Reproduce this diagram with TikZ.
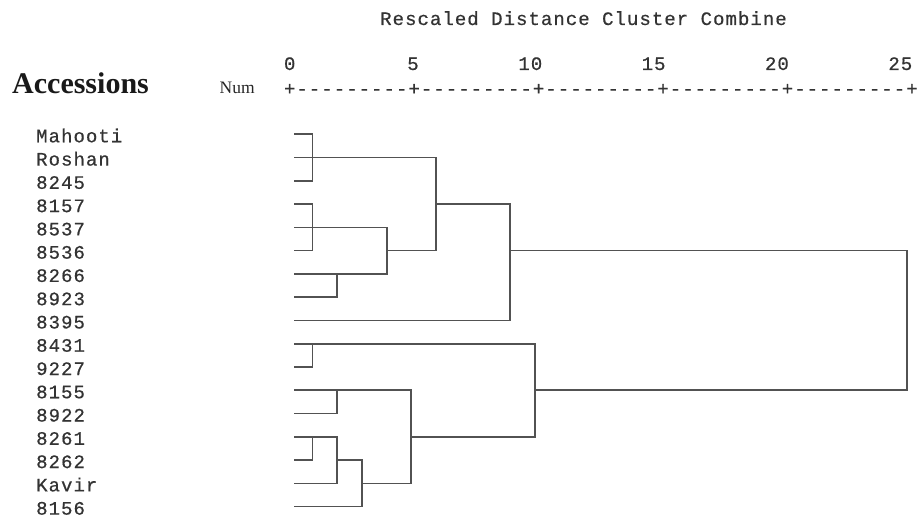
\documentclass[tikz,border=0pt]{standalone}
\usepackage{fontspec}
\setmainfont{Liberation Serif}
\newfontfamily\monofont[LetterSpace=5.5,FakeBold=0.6]{Liberation Mono}
\begin{document}
\begin{tikzpicture}[x=1pt,y=-1pt,
  mono/.style={font=\monofont\fontsize{19}{19}\selectfont, text=black!80, inner sep=0pt, anchor=base west},
  leaflabel/.style={mono},
  tree/.style={draw=black!68, line width=1.6pt, line join=miter},
]
\useasboundingbox (0,0) rectangle (917,518);

% headings
\node[mono] (title) at (380,25) {Rescaled Distance Cluster Combine};
\node[font=\fontsize{30}{30}\selectfont\bfseries, text=black!90, inner sep=0pt, anchor=base west] (acc) at (12,93.5) {Accessions};
\node[font=\fontsize{17.5}{17.5}\selectfont, text=black!85, inner sep=0pt, anchor=base west] (num) at (219.5,93.5) {Num};

% distance scale
\node[mono] (axis) at (283.8,95) {+---------+---------+---------+---------+---------+};
\node[mono] (n0)  at (283.8,70) {0};
\node[mono] (n5)  at (407.1,70) {5};
\node[mono] (n10) at (518.2,70) {10};
\node[mono] (n15) at (641.5,70) {15};
\node[mono] (n20) at (764.8,70) {20};
\node[mono] (n25) at (888.2,70) {25};

% accessions: label and leaf end
\foreach \i/\name in {0/Mahooti,1/Roshan,2/8245,3/8157,4/8537,5/8536,6/8266,7/8923,8/8395,
                      9/8431,10/9227,11/8155,12/8922,13/8261,14/8262,15/Kavir,16/8156}{
  \pgfmathsetmacro{\ry}{134.3+23.27*\i}
  \node[leaflabel] (t\i) at (36,\ry+8) {\name};
  \coordinate (m\i) at (294,\ry);
}

% merge levels
\coordinate (xa) at (312.3,0);
\coordinate (xb) at (336.7,0);
\coordinate (xc) at (361.7,0);
\coordinate (xd) at (386.7,0);
\coordinate (xe) at (411,0);
\coordinate (xf) at (435.7,0);
\coordinate (xg) at (510,0);
\coordinate (xh) at (535,0);
\coordinate (xk) at (906.7,0);

% upper group
\draw[tree] (m0) -- (xa |- m0) -- (xa |- m2) -- (m2);
\draw[tree] (m3) -- (xa |- m3) -- (xa |- m5) -- (m5);
\draw[tree] (m4) -- (xd |- m4) -- (xd |- m6) -- (m6);
\draw[tree] (m7) -- (xb |- m7) -- (xb |- m6);
\draw[tree] (m1) -- (xf |- m1) -- (xf |- m5) -- (xd |- m5);
\draw[tree] (xf |- m3) -- (xg |- m3) -- (xg |- m8) -- (m8);

% root
\draw[tree] (xg |- m5) -- (xk |- m5) -- (xk |- m11) -- (xh |- m11);

% lower group
\draw[tree] (m9) -- (xh |- m9) -- (xh |- m13) -- (xe |- m13);
\draw[tree] (m10) -- (xa |- m10) -- (xa |- m9);
\draw[tree] (m11) -- (xe |- m11) -- (xe |- m15) -- (xc |- m15);
\draw[tree] (m12) -- (xb |- m12) -- (xb |- m11);
\draw[tree] (m13) -- (xb |- m13) -- (xb |- m15) -- (m15);
\draw[tree] (m14) -- (xa |- m14) -- (xa |- m13);
\draw[tree] (xb |- m14) -- (xc |- m14) -- (xc |- m16) -- (m16);
\end{tikzpicture}
\end{document}
